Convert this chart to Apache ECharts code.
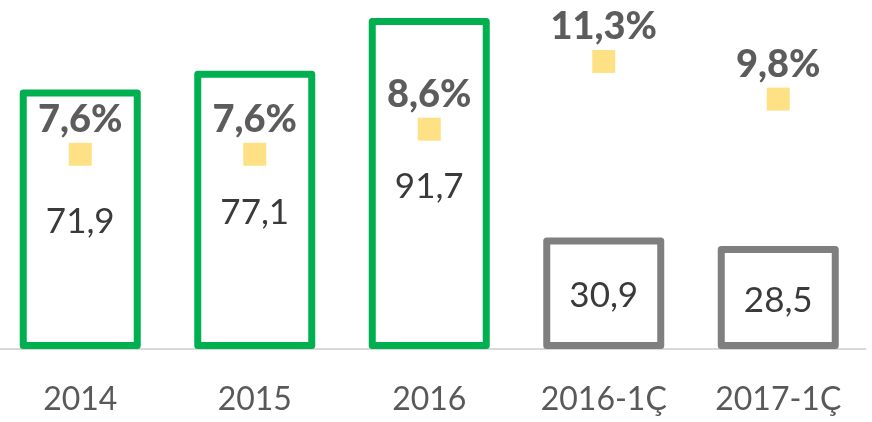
<!DOCTYPE html>
<html>
<head>
<meta charset="utf-8">
<script src="https://cdn.jsdelivr.net/npm/echarts@6/dist/echarts.min.js"></script>
<style>
  html, body { margin: 0; padding: 0; background: #fff; overflow: hidden; }
  /* shifted a little left so the first bar sits where the original has it */
  #main { position: absolute; left: -7px; top: 0; width: 886px; height: 422px; }
</style>
</head>
<body>
<div id="main"></div>
<script>
// categories and values
var categories = ['2014', '2015', '2016', '2016-1Ç', '2017-1Ç'];
var volumes = [71.9, 77.1, 91.7, 30.9, 28.5];
var shares = [7.6, 7.6, 8.6, 11.3, 9.8];
var annualCount = 3; // first three are full years, rest are quarters

var GREEN = '#00B050';
var GRAY = '#7F7F7F';
var YELLOW = '#FFD966';
var FONT = 'Lato, "Liberation Sans", sans-serif';

function comma(v) {
    return v.toFixed(1).replace('.', ',');
}

var chart = echarts.init(document.getElementById('main'));

chart.setOption({
    animation: false,
    grid: { left: 0, right: 13.5, top: 6, bottom: 73 },
    xAxis: {
        type: 'category',
        data: categories,
        axisLine: { lineStyle: { color: '#D9D9D9', width: 2 } },
        axisTick: { show: false },
        axisLabel: {
            color: '#595959',
            fontFamily: FONT,
            fontSize: 32,
            margin: 35
        }
    },
    yAxis: [
        { type: 'value', min: 0, max: 95, show: false, splitLine: { show: false } },
        { type: 'value', min: -0.16, max: 13.51, show: false, splitLine: { show: false } }
    ],
    series: [
        {
            type: 'bar',
            barWidth: 121,
            data: volumes.map(function (v, i) {
                return {
                    value: v,
                    itemStyle: { borderColor: i < annualCount ? GREEN : GRAY }
                };
            }),
            itemStyle: {
                color: '#FFFFFF',
                borderWidth: 7,
                borderJoin: 'round'
            },
            label: {
                show: true,
                position: 'inside',
                offset: [0, 3],
                color: '#3A3A3A',
                fontFamily: FONT,
                fontSize: 35,
                formatter: function (p) { return comma(p.value); }
            }
        },
        {
            type: 'scatter',
            yAxisIndex: 1,
            data: shares,
            symbol: 'rect',
            symbolSize: 23,
            itemStyle: { color: YELLOW },
            label: {
                show: true,
                position: 'top',
                distance: 4,
                color: '#333333',
                fontFamily: FONT,
                fontWeight: 900,
                fontSize: 38,
                formatter: function (p) { return comma(p.value) + '%'; }
            }
        }
    ]
});
</script>
</body>
</html>
